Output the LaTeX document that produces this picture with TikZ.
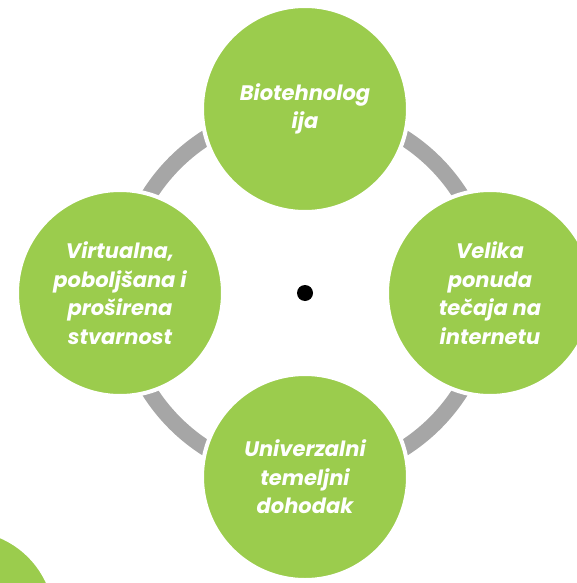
\documentclass[tikz,border=0pt]{standalone}
\usepackage{fontspec}
\setsansfont{Poppins}
\definecolor{leafgreen}{RGB}{155,204,77}
\definecolor{ringgray}{RGB}{166,166,166}
\tikzset{
  bubble/.style={circle, fill=leafgreen, draw=white, line width=4pt,
    minimum size=206pt, inner sep=0pt, align=center, text=white,
    font=\sffamily\bfseries\itshape\fontsize{21}{28.5}\selectfont},
}

\begin{document}
\begin{tikzpicture}[x=1pt,y=-1pt]
                \useasboundingbox (0,0) rectangle (577,583);
                \draw[ringgray, line width=16pt] (305,293) circle [radius=184pt];
                \node[circle, fill=black, minimum size=16pt, inner sep=0pt] (hub) at (305,293) {};
                \node[bubble] (bio) at (305,109) {Biotehnolog\\ija};
                \node[bubble] (tecaj) at (490,293) {Velika\\ponuda\\tečaja na\\internetu};
                \node[bubble] (dohodak) at (305,477) {Univerzalni\\temeljni\\dohodak};
                \node[bubble] (stvarnost) at (120,293) {Virtualna,\\poboljšana i\\proširena\\stvarnost};
                \node[bubble, minimum size=182pt] (kut) at (-35,620) {};
            \end{tikzpicture}
\end{document}
